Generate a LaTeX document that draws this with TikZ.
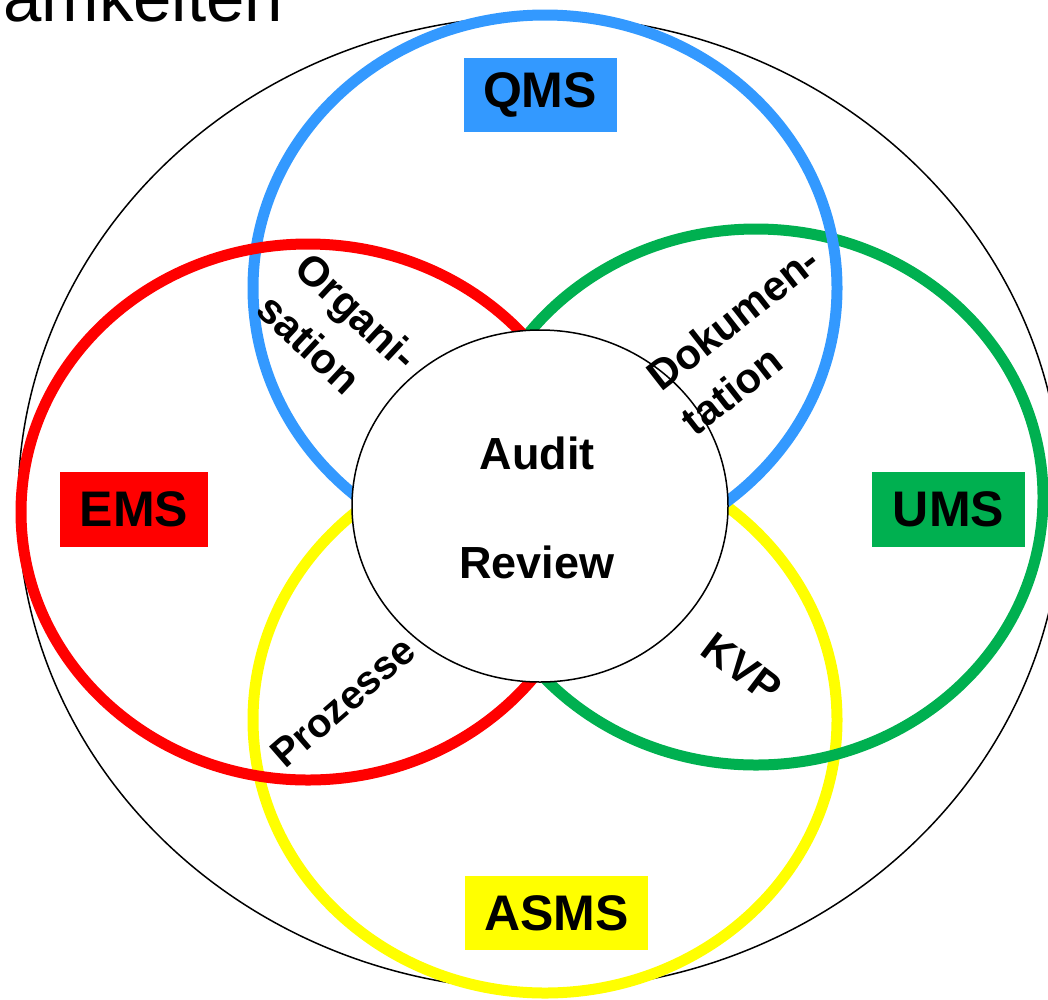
\documentclass[tikz,border=0pt]{standalone}
\usepackage{fontspec}
\setmainfont{Liberation Sans}
\definecolor{qmsblue}{RGB}{51,153,255}
\definecolor{emsred}{RGB}{255,0,0}
\definecolor{umsgreen}{RGB}{0,176,80}
\definecolor{asmsyellow}{RGB}{255,255,0}
\tikzset{
  ring/.style={line width=11pt},
  tagbox/.style={inner sep=0pt, font=\fontsize{50}{55}\selectfont\bfseries, text=black, anchor=center},
  lbl/.style={inner sep=0pt, font=\fontsize{42}{56}\selectfont\bfseries, align=left, anchor=center},
  centertxt/.style={inner sep=0pt, font=\fontsize{45}{50}\selectfont\bfseries, anchor=center}
}
\begin{document}
\begin{tikzpicture}[x=1pt,y=-1pt]
\useasboundingbox (0,0) rectangle (1048,999);
\clip (0,0) rectangle (1048,999);
% outer ellipse
\draw[line width=1.5pt, black] (540,503) ellipse [x radius=522pt, y radius=487pt];
% rings
\draw[ring, asmsyellow] (545,720) ellipse [x radius=292pt, y radius=273pt];
\draw[ring, umsgreen] (756,497) ellipse [x radius=287pt, y radius=268pt];
\draw[ring, qmsblue] (545,288) ellipse [x radius=292pt, y radius=273pt];
\draw[ring, emsred] (308,512) ellipse [x radius=287pt, y radius=268pt];
% inner ellipse
\draw[line width=1.5pt, black, fill=white] (540,506) ellipse [x radius=188pt, y radius=176pt];
% center text
\node[centertxt] (audit) at (537,453) {Audit};
\node[centertxt] (review) at (537,562) {Review};
% label boxes
\node[tagbox, fill=qmsblue, minimum width=153pt, minimum height=74pt] (qms) at (540,95) {QMS};
\node[tagbox, fill=emsred, minimum width=148pt, minimum height=75pt] (ems) at (134,509.5) {EMS};
\node[tagbox, fill=umsgreen, minimum width=153pt, minimum height=75pt] (ums) at (948.5,509.5) {UMS};
\node[tagbox, fill=asmsyellow, minimum width=183pt, minimum height=74pt] (asms) at (556.5,913) {ASMS};
% rotated labels
\node[lbl, rotate=-43] (org) at (338,332) {Organi-\\sation};
\node[lbl, rotate=38] (dok) at (750,340) {Dokumen-\\tation};
\node[lbl, rotate=41, font=\fontsize{40}{50}\selectfont\bfseries] (proz) at (343,702) {Prozesse};
\node[lbl, rotate=-37] (kvp) at (742,668) {KVP};
% title fragment
\node[anchor=base west, inner sep=0pt, font=\fontsize{69}{72}\selectfont] (title) at (3,21) {amkeiten};
\end{tikzpicture}
\end{document}
